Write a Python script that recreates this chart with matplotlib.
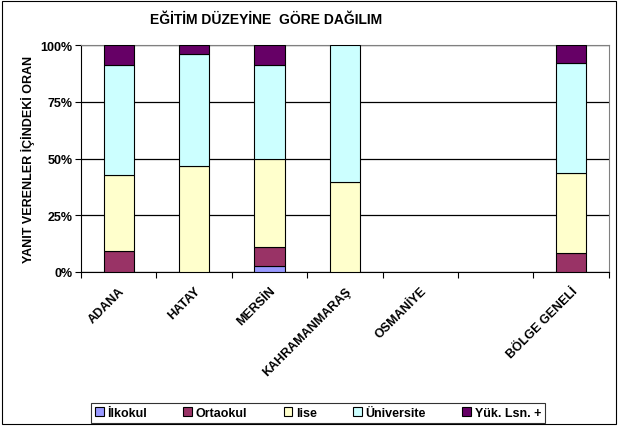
import matplotlib
matplotlib.use('Agg')
import matplotlib.pyplot as plt
import numpy as np
from matplotlib.patches import Rectangle

plt.rcParams['font.family'] = ['Liberation Sans', 'DejaVu Sans']
plt.rcParams['font.weight'] = 'bold'

categories = ['ADANA', 'HATAY', 'MERSİN', 'KAHRAMANMARAŞ', 'OSMANİYE', '', 'BÖLGE GENELİ']
series = ['İlkokul', 'Ortaokul', 'lise', 'Üniversite', 'Yük. Lsn. +']
ilkokul = [0, 0, 2.6, 0, 0, 0, 0]
ortaokul = [9.1, 0, 8.3, 0, 0, 0, 8.2]
lise = [33.6, 46.7, 38.9, 39.5, 0, 0, 35.3]
universite = [48.6, 49.6, 41.4, 60.5, 0, 0, 48.5]
yuksek = [8.7, 3.7, 8.8, 0, 0, 0, 8.0]
colors = ['#9999FF', '#993366', '#FFFFCC', '#CCFFFF', '#660066']

fig = plt.figure(figsize=(6.2, 4.27), dpi=100)
ax = fig.add_axes([0.1306, 0.3607, 0.8514, 0.5313])

x = np.arange(len(categories)) + 0.5
bottom = np.zeros(len(categories))
for name, vals, col in zip(series, [ilkokul, ortaokul, lise, universite, yuksek], colors):
    vals = np.array(vals, dtype=float)
    keep = vals > 0
    # only draw segments that have a value
    ax.bar(x[keep], vals[keep], width=0.4, bottom=bottom[keep], color=col,
           edgecolor='black', linewidth=0.8, label=name, zorder=3)
    bottom += vals

ax.set_xlim(0, len(categories))
ax.set_ylim(0, 100)
ax.set_yticks([0, 25, 50, 75, 100])
ax.set_yticklabels(['0%', '25%', '50%', '75%', '100%'], fontsize=9, fontweight='bold')
ax.yaxis.grid(True, color='black', linewidth=0.9, zorder=0)
ax.set_xticks(np.arange(len(categories) + 1))
ax.set_xticklabels([])
ax.set_xticks(x, minor=True)
ax.set_xticklabels(categories, minor=True, rotation=45, ha='right', va='top',
                   fontsize=9, fontweight='bold', rotation_mode='anchor')
ax.tick_params(axis='x', which='minor', length=0, pad=9)
ax.tick_params(axis='x', which='major', length=4, direction='out')
ax.tick_params(axis='y', length=4, direction='out', pad=2)
for s in ['top', 'right']:
    ax.spines[s].set_color('#808080')
ax.spines['left'].set_color('black')
ax.spines['bottom'].set_color('black')

ax.set_ylabel('YANIT VERENLER İÇİNDEKİ ORAN', fontsize=9, fontweight='bold', labelpad=4)
fig.text(0.429, 0.953, 'EĞİTİM DÜZEYİNE  GÖRE DAĞILIM', ha='center', va='center',
         fontsize=10, fontweight='bold')

leg = fig.legend(loc='center', bbox_to_anchor=(0.513, 0.03), ncol=5, fontsize=9,
                 frameon=True, fancybox=False, edgecolor='black', handlelength=0.7,
                 handleheight=0.7, handletextpad=0.3, columnspacing=2.9,
                 borderpad=0.3, borderaxespad=0)
leg.get_frame().set_linewidth(0.8)

fig.patches.append(Rectangle((0.004, 0.005), 0.99, 0.99, transform=fig.transFigure,
                             fill=False, edgecolor='black', linewidth=0.8))

fig.savefig('out.png', dpi=100)
